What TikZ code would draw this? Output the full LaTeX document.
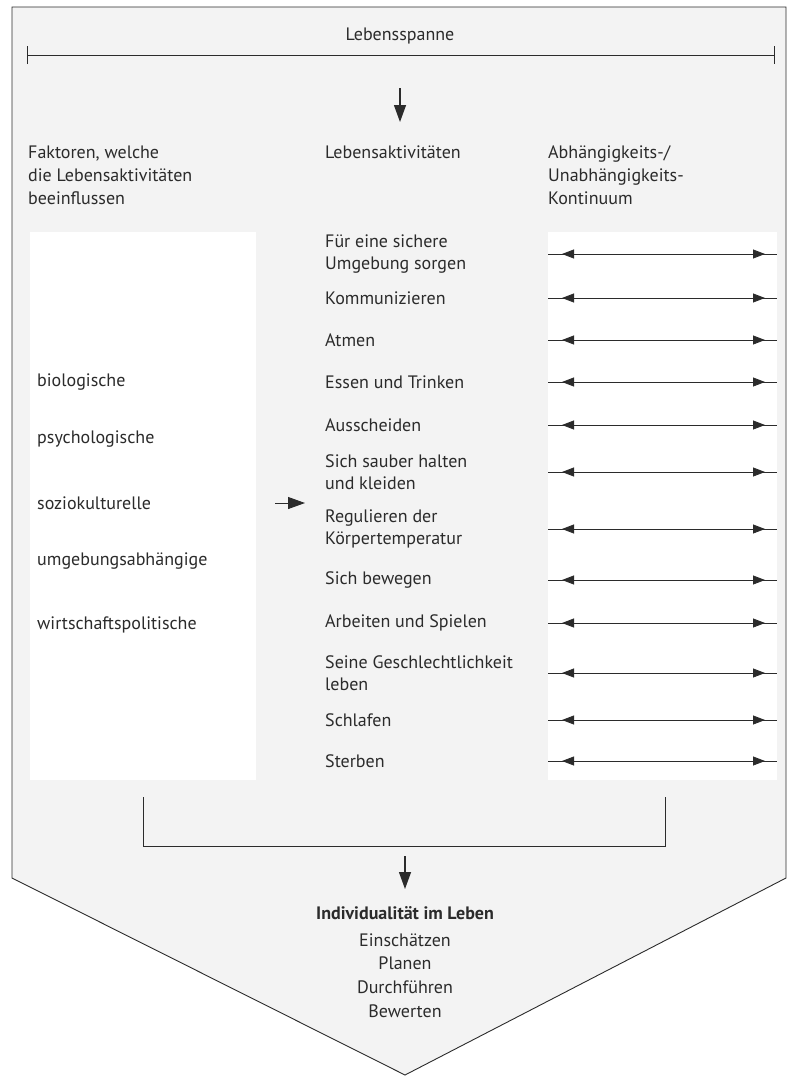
\documentclass[tikz,border=0pt]{standalone}
\usepackage{fontspec}
\setmainfont{PT Sans}
\usetikzlibrary{arrows.meta}

\definecolor{ink}{HTML}{2B2B2B}
\definecolor{paper}{HTML}{F3F3F3}

\tikzset{
  txt/.style={anchor=west, inner sep=0pt, align=left, text=ink,
    font=\fontsize{18}{22}\selectfont},
  pfeil/.style={draw=ink, line width=1.3pt, -{Triangle[length=17pt,width=12pt]}},
  kont/.style={draw=ink, line width=0.8pt,
    postaction={draw=ink, arrows={Triangle[length=12pt,width=9pt]-Triangle[length=12pt,width=9pt]},
      shorten <=14pt, shorten >=12pt}},
}

\begin{document}
\begin{tikzpicture}[x=1pt, y=-1pt]
    \useasboundingbox (0,0) rectangle (787,1076);
    % Rahmen
    \filldraw [fill=paper, draw=ink, line width=0.9pt]
      (12,7) -- (786,7) -- (786,878) -- (405,1075) -- (12,878) -- cycle;
    \fill [white] (30,232) rectangle (256,780);
    \fill [white] (548,232) rectangle (777,780);

    % Lebensspanne
    \coordinate (lsl) at (27,55);
    \coordinate (lsr) at (775,55);
    \draw [ink, line width=1pt, {Bar[width=18pt]}-{Bar[width=18pt]}] (lsl) -- (lsr);
    \node [txt, anchor=center] (spanne) at (400,36) {Lebensspanne};
    \coordinate (o1) at (400,88);
    \coordinate (u1) at (400,122);
    \draw [pfeil] (o1) -- (u1);

    % Spaltenkoepfe
    \node [txt, font=\fontsize{18}{23}\selectfont] (kfak) at (28,175) {Faktoren, welche\\die Lebensaktivitäten\\beeinflussen};
    \node [txt] (kakt) at (325,152) {Lebensaktivitäten};
    \node [txt, font=\fontsize{18}{23}\selectfont] (kkon) at (548,175) {Abhängigkeits-/\\Unabhängigkeits-\\Kontinuum};

    % Faktoren
    \foreach \y/\t [count=\i] in {382/biologische, 439/psychologische, 503/soziokulturelle,
        561/umgebungsabhängige, 625/wirtschaftspolitische}
      \node [txt] (fak\i) at (37,\y) {\t};
    \coordinate (f1) at (275,503);
    \coordinate (f2) at (305,503);
    \draw [pfeil, line width=1pt] (f1) -- (f2);

    % Lebensaktivitaeten und Kontinuum
    \foreach \y/\t [count=\i] in {254/{Für eine sichere\\Umgebung sorgen}, 298/Kommunizieren,
        340/Atmen, 382/Essen und Trinken, 425/Ausscheiden,
        472/{Sich sauber halten\\und kleiden}, 529/{Regulieren der\\Körpertemperatur},
        580/Sich bewegen, 623/Arbeiten und Spielen,
        673/{Seine Geschlechtlichkeit\\leben}, 720/Schlafen, 761/Sterben} {
      \node [txt] (la\i) at (325,\y) {\t};
      \coordinate (kl\i) at (548,\y);
      \coordinate (kr\i) at (777,\y);
      \draw [kont] (kl\i) -- (kr\i);
    }

    % Klammer
    \draw [ink, line width=0.9pt] (143,797) -- (143,846) -- (665,846) -- (665,797);
    \coordinate (o2) at (405,856);
    \coordinate (u2) at (405,889);
    \draw [pfeil] (o2) -- (u2);

    % Individualitaet
    \node [txt, anchor=center, font=\bfseries\fontsize{18}{22}\selectfont] (indiv) at (405,913)
      {Individualität im Leben};
    \node [txt, anchor=center, align=center, font=\fontsize{18}{23.7}\selectfont] (proz) at (405,975.5)
      {Einschätzen\\Planen\\Durchführen\\Bewerten};
\end{tikzpicture}
\end{document}
